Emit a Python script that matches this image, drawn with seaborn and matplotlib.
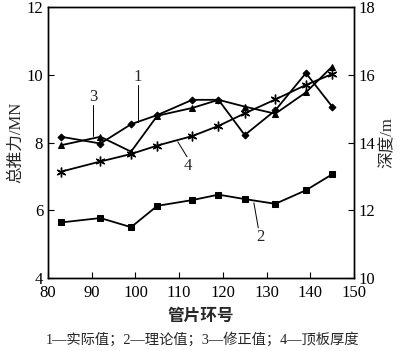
import numpy as np
import pandas as pd
import matplotlib
matplotlib.use('Agg')
import matplotlib.pyplot as plt
import seaborn as sns

# data
ring = [83, 92, 99, 105, 113, 119, 125, 132, 139, 145]
actual = [8.17, 7.97, 8.54, 8.81, 9.26, 9.26, 8.22, 8.95, 10.05, 9.06]      # 1
theory = [5.64, 5.77, 5.50, 6.13, 6.30, 6.46, 6.33, 6.19, 6.59, 7.06]      # 2
corrected = [7.92, 8.17, 7.73, 8.79, 9.02, 9.26, 9.06, 8.85, 9.48, 10.24]  # 3
thickness = [7.14, 7.44, 7.66, 7.91, 8.19, 8.49, 8.86, 9.27, 9.70, 10.02]  # 4

sns.set_style('ticks')
plt.rcParams['font.family'] = ['Liberation Serif', 'Noto Sans CJK SC']
plt.rcParams['axes.linewidth'] = 1.0

fig = plt.figure(figsize=(4, 3.51), dpi=100)
ax = fig.add_axes([0.12, 0.208, 0.765, 0.772])

df = pd.DataFrame({'ring': ring, 'actual': actual, 'theory': theory,
                   'corrected': corrected, 'thickness': thickness})

sns.lineplot(data=df, x='ring', y='actual', ax=ax, color='k', lw=1.3,
             marker='D', markersize=3.5, markeredgecolor='k')
sns.lineplot(data=df, x='ring', y='theory', ax=ax, color='k', lw=1.3,
             marker='s', markersize=5, markeredgecolor='k')
sns.lineplot(data=df, x='ring', y='corrected', ax=ax, color='k', lw=1.3,
             marker='^', markersize=5, markeredgecolor='k')
sns.lineplot(data=df, x='ring', y='thickness', ax=ax, color='k', lw=1.3,
             marker=(6, 2, 0), markersize=7, markeredgecolor='k', markeredgewidth=1.0)

ax.set_xlim(80, 150)
ax.set_ylim(4, 12)
ax.set_xticks(range(80, 151, 10))
ax.set_yticks(range(4, 13, 2))
ax.tick_params(direction='in', labelsize=12, length=4, colors='k')
ax.tick_params(axis='x', pad=5)
ax.set_xlabel('管片环号', fontsize=12, fontweight='bold', labelpad=6)
ax.set_ylabel('总推力/MN', fontsize=12, labelpad=2)

ax2 = ax.twinx()
ax2.set_ylim(10, 18)
ax2.set_yticks(range(10, 19, 2))
ax2.tick_params(direction='in', labelsize=12, length=4, colors='k')
ax2.set_ylabel('深度/m', fontsize=12, labelpad=3)
for a in (ax, ax2):
    for s in a.spines.values():
        s.set_visible(True)
        s.set_color('k')

# leader lines and numbers
ax.plot([100.6, 100.6], [9.70, 8.62], color='k', lw=0.7)
ax.text(100.6, 9.92, '1', fontsize=12, ha='center', va='center')
ax.plot([90.3, 90.3], [9.10, 8.18], color='k', lw=0.7)
ax.text(90.3, 9.33, '3', fontsize=12, ha='center', va='center')
ax.plot([109.7, 111.8], [8.02, 7.58], color='k', lw=0.7)
ax.text(112.0, 7.30, '4', fontsize=12, ha='center', va='center')
ax.plot([127.1, 128.1], [6.22, 5.48], color='k', lw=0.7)
ax.text(128.5, 5.22, '2', fontsize=12, ha='center', va='center')

fig.text(0.507, 0.032, '1—实际值；2—理论值；3—修正值；4—顶板厚度',
         fontsize=10.3, ha='center', va='center')

fig.savefig('out.png', dpi=100)
